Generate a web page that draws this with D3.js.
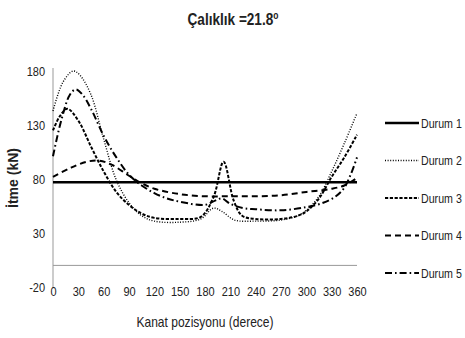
<!DOCTYPE html>
<html lang="tr">
<head>
  <meta charset="UTF-8">
  <title>Çalıklık 21.8</title>
  <style>
    body { margin: 0; background: #fff; }
    svg text { font-family: 'Liberation Sans', Arial, sans-serif; fill: #222; }
    .tick text { font-size: 12.5px; }
  </style>
</head>
<body>
  <svg id="chart"></svg>
  <script src="https://cdn.jsdelivr.net/npm/d3@7"></script>
  <script>
    var w = 465, h = 338;

    // tick labels
    var xTicks = [0, 30, 60, 90, 120, 150, 180, 210, 240, 270, 300, 330, 360];
    var yTicks = [-20, 30, 80, 130, 180];

    // series (angle in degrees, force in kN)
    var durum1 = [[0, 77], [360, 77]];
    var durum2 = [[0, 143], [12, 170], [24, 180], [32, 176], [45, 158], [60, 117], [75, 79], [90, 58],
                  [105, 46], [120, 41], [150, 40], [175, 43], [190, 53], [200, 50], [215, 42], [240, 41],
                  [270, 42], [290, 46], [300, 51], [315, 64], [330, 87], [345, 113], [360, 141]];
    var durum3 = [[0, 125], [8, 138], [17, 145], [30, 134], [45, 110], [60, 87], [75, 68], [90, 56],
                  [105, 48], [120, 44], [150, 43], [175, 45], [190, 63], [202, 96], [214, 60], [224, 46],
                  [240, 43], [270, 43], [290, 46], [300, 50], [315, 62], [330, 82], [345, 100], [360, 121]];
    var durum4 = [[0, 82], [20, 90], [40, 96], [55, 97], [70, 93], [90, 83], [105, 76], [120, 71],
                  [150, 66], [180, 64], [210, 64], [240, 64], [270, 65], [300, 68], [330, 71], [345, 74], [360, 81]];
    var durum5 = [[0, 101], [10, 135], [20, 158], [27, 163], [35, 158], [45, 145], [60, 120], [75, 100],
                  [90, 84], [105, 74], [120, 67], [135, 62], [150, 59], [180, 56], [192, 60], [200, 62],
                  [210, 57], [225, 53], [240, 52], [270, 51], [300, 54], [320, 58], [335, 64], [345, 72],
                  [353, 85], [360, 100]];

    var names = ["Durum 1", "Durum 2", "Durum 3", "Durum 4", "Durum 5"];
    var seriesData = [durum1, durum2, durum3, durum4, durum5];
    var dashes = [null, "1,1.6", "3.2,1.6", "6,4", "7,3,1.6,3"];
    var widths = [2.6, 1.4, 2, 2, 2];

    var svg = d3.select("#chart").attr("width", w).attr("height", h);

    var x = d3.scaleLinear().domain([0, 360]).range([53, 357]);
    var y = d3.scaleLinear().domain([-20, 180]).range([287, 71]);

    // title (narrow look like the original Calibri)
    var title = svg.append("text")
      .attr("transform", "translate(233,25) scale(0.85,1)")
      .attr("text-anchor", "middle")
      .attr("font-size", 16).attr("font-weight", "bold")
      .text("Çalıklık =21.8");
    title.append("tspan").attr("font-size", 10).attr("dy", -6).text("o");

    // y axis
    var yAxis = svg.append("g")
      .attr("transform", "translate(53,0)")
      .call(d3.axisLeft(y).tickValues(yTicks).tickSize(0).tickPadding(9).tickFormat(d => String(d)));
    yAxis.select(".domain").attr("stroke", "#999").attr("d", "M0,68V288");

    // x axis drawn at y = 0, labels below the plot
    svg.append("line")
      .attr("x1", x(0)).attr("x2", x(360))
      .attr("y1", y(0)).attr("y2", y(0))
      .attr("stroke", "#999");
    var xAxis = svg.append("g")
      .attr("transform", "translate(0,287)")
      .call(d3.axisBottom(x).tickValues(xTicks).tickSize(0).tickPadding(0));
    xAxis.select(".domain").remove();
    svg.selectAll(".tick text").attr("transform", "scale(0.88,1)");

    svg.append("text")
      .attr("transform", "translate(205,327) scale(0.86,1)")
      .attr("text-anchor", "middle").attr("font-size", 14)
      .text("Kanat pozisyonu (derece)");

    svg.append("text")
      .attr("transform", "translate(18,178) rotate(-90)")
      .attr("text-anchor", "middle").attr("font-size", 14).attr("font-weight", "bold")
      .text("İtme (kN)");

    // lines
    var line = d3.line()
      .x(d => x(d[0]))
      .y(d => y(d[1]))
      .curve(d3.curveCatmullRom.alpha(0.5));

    svg.selectAll(".series")
      .data(seriesData)
      .enter()
      .append("path")
        .attr("class", "series")
        .attr("d", line)
        .attr("fill", "none")
        .attr("stroke", "#000")
        .attr("stroke-width", (d, i) => widths[i])
        .attr("stroke-dasharray", (d, i) => dashes[i]);

    // legend
    var legend = svg.selectAll(".legend")
      .data(names)
      .enter()
      .append("g")
        .attr("class", "legend")
        .attr("transform", (d, i) => "translate(385," + (123 + i * 37.5) + ")");
    legend.append("line")
      .attr("x1", 0).attr("x2", 34)
      .attr("stroke", "#000")
      .attr("stroke-width", (d, i) => widths[i])
      .attr("stroke-dasharray", (d, i) => dashes[i]);
    legend.append("text")
      .attr("transform", "translate(36,0) scale(0.82,1)")
      .attr("dy", "0.35em")
      .attr("font-size", 13)
      .text(d => d);
  </script>
</body>
</html>
